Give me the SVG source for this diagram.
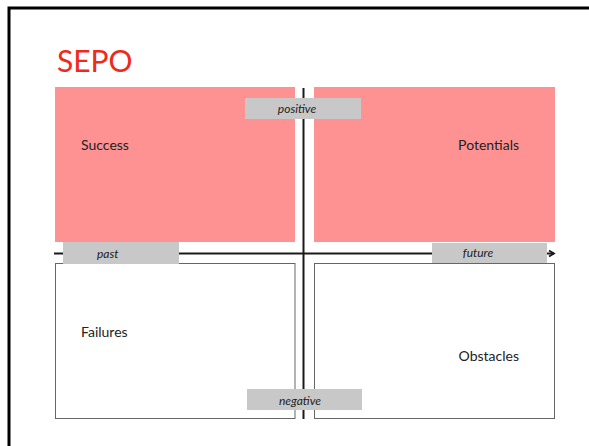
<svg xmlns="http://www.w3.org/2000/svg" width="589" height="446" viewBox="0 0 589 446">
  <style>
    .quad-pos { fill: #fe9191; }
    .quad-neg { fill: #ffffff; stroke: #666666; stroke-width: 1; }
    .axis { stroke: #1a1a1a; stroke-width: 2; fill: none; }
    .tag { fill: #c8c8c8; }
    .tag-text { font-family: Lato, "Liberation Sans", sans-serif; font-style: italic; font-size: 12px; fill: #222222; }
    .quad-text { font-family: Lato, "Liberation Sans", sans-serif; font-size: 14px; fill: #222222; }
    .title { font-family: Lato, "Liberation Sans", sans-serif; font-size: 30px; fill: #ee2a1a; }
  </style>
  <defs>
    <marker id="chevron" viewBox="0 0 8 8" refX="6" refY="4" markerWidth="8" markerHeight="8" markerUnits="userSpaceOnUse" orient="auto">
      <path d="M1,1 L6,4 L1,7" fill="none" stroke="#1a1a1a" stroke-width="1.8"/>
    </marker>
  </defs>

  <rect width="589" height="446" fill="#ffffff"/>
  <!-- slide frame -->
  <rect x="9" y="8" width="600" height="460" fill="none" stroke="#000000" stroke-width="3"/>

  <text class="title" x="57" y="72">SEPO</text>

  <g id="success">
    <rect class="quad-pos" x="55" y="87" width="240" height="155"/>
    <text class="quad-text" x="81" y="150">Success</text>
  </g>
  <g id="potentials">
    <rect class="quad-pos" x="314" y="87" width="241" height="155"/>
    <text class="quad-text" x="519" y="150" text-anchor="end">Potentials</text>
  </g>
  <g id="failures">
    <rect class="quad-neg" x="55.5" y="263.5" width="239.5" height="155"/>
    <text class="quad-text" x="81" y="337">Failures</text>
  </g>
  <g id="obstacles">
    <rect class="quad-neg" x="314.5" y="263.5" width="240" height="155"/>
    <text class="quad-text" x="519" y="361" text-anchor="end">Obstacles</text>
  </g>

  <g id="connectors">
    <line class="axis" x1="303.5" y1="88" x2="303.5" y2="419"/>
    <line class="axis" x1="54" y1="253.5" x2="554" y2="253.5" marker-end="url(#chevron)"/>
  </g>

  <g id="positive">
    <rect class="tag" x="245" y="98" width="116" height="21"/>
    <text class="tag-text" x="297" y="113" text-anchor="middle">positive</text>
  </g>
  <g id="past">
    <rect class="tag" x="63" y="242" width="116" height="22"/>
    <text class="tag-text" x="97" y="258">past</text>
  </g>
  <g id="future">
    <rect class="tag" x="432" y="243" width="115" height="20"/>
    <text class="tag-text" x="478" y="257" text-anchor="middle">future</text>
  </g>
  <g id="negative">
    <rect class="tag" x="247" y="389" width="115" height="21"/>
    <text class="tag-text" x="300" y="405" text-anchor="middle">negative</text>
  </g>
</svg>
